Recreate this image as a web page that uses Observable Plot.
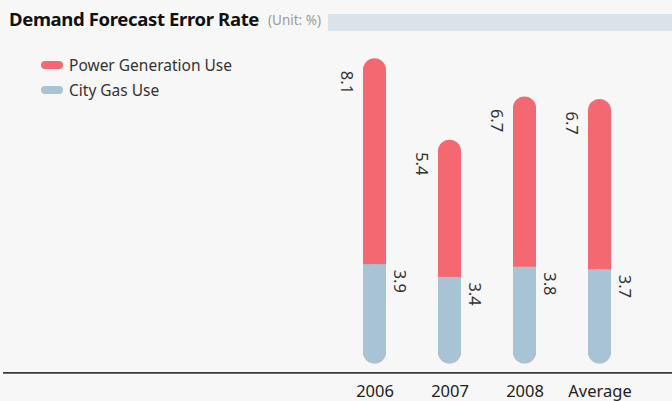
<!DOCTYPE html>
<html>
<head>
<meta charset="utf-8">
<script src="https://cdn.jsdelivr.net/npm/d3@7"></script>
<script src="https://cdn.jsdelivr.net/npm/@observablehq/plot@0.6"></script>
<style>
  html, body { margin: 0; padding: 0; background: #f7f7f7; }
  #wrap { position: relative; width: 672px; height: 401px; overflow: hidden; font-family: "Noto Sans", "Open Sans", sans-serif; }
  #title { position: relative; height: 40px; }
  #title .main { position: absolute; left: 9px; top: 6px; font-size: 18.5px; font-weight: 700; color: #111; letter-spacing: -0.35px; white-space: nowrap; }
  #title .unit { position: absolute; left: 268px; top: 11px; font-size: 13.5px; color: #9a9a9a; white-space: nowrap; }
  #title .band { position: absolute; left: 328px; right: 0; top: 14px; height: 17px; background: #dbe3ea; }
  #legend { position: absolute; left: 41px; top: 52px; font-size: 15.5px; color: #333; }
  #legend .row { display: flex; align-items: center; height: 25.5px; }
  #legend .sw { width: 22px; height: 8px; border-radius: 4px; margin-right: 6px; }
  svg { display: block; }
</style>
</head>
<body>
<div id="wrap">
  <div id="title"><span class="main">Demand Forecast Error Rate</span><span class="unit">(Unit: %)</span><div class="band"></div></div>
  <div id="legend"></div>
  <div id="chart"></div>
</div>
<script>
const years = ["2006", "2007", "2008", "Average"];
const powerGeneration = [8.1, 5.4, 6.7, 6.7];
const cityGas = [3.9, 3.4, 3.8, 3.7];
const seriesNames = ["Power Generation Use", "City Gas Use"];
const seriesColors = ["#f46871", "#a8c4d4"];

const data = years.map((year, i) => ({
  year,
  power: powerGeneration[i],
  gas: cityGas[i],
  total: powerGeneration[i] + cityGas[i]
}));

const legend = document.getElementById("legend");
seriesNames.forEach((name, i) => {
  const row = document.createElement("div");
  row.className = "row";
  row.innerHTML = `<span class="sw" style="background:${seriesColors[i]}"></span><span>${name}</span>`;
  legend.appendChild(row);
});

const chart = Plot.plot({
  width: 672,
  height: 361,
  marginTop: 18.3,
  marginBottom: 37.7,
  marginLeft: 3,
  marginRight: 0,
  style: { background: "transparent", fontFamily: "Noto Sans, Open Sans, sans-serif" },
  x: { domain: years, range: [309.6, 664.6], padding: 0.696, label: null },
  y: { domain: [0, 12], axis: null },
  marks: [
    Plot.ruleY([0], { dy: 9, stroke: "#3a3a3a", strokeWidth: 1.8 }),
    Plot.barY(data, { x: "year", y1: 0, y2: "total", fill: seriesColors[0], rx: 11.5 }),
    Plot.barY(data, { x: "year", y1: 0, y2: "gas", fill: seriesColors[1], rx: 11.5 }),
    Plot.barY(data, { x: "year", y1: d => d.gas / 2, y2: "gas", fill: seriesColors[1] }),
    Plot.text(data, { x: "year", y: "total", text: d => d.power.toFixed(1), rotate: 90, textAnchor: "start", dx: -28.5, dy: 12, fontSize: 16.5, fill: "#333" }),
    Plot.text(data, { x: "year", y: "gas", text: d => d.gas.toFixed(1), rotate: 90, textAnchor: "start", dx: 24, dy: 5, fontSize: 16.5, fill: "#333" }),
    Plot.axisX({ tickSize: 0, tickPadding: 21, fontSize: 16.5, color: "#222", label: null })
  ]
});
document.getElementById("chart").appendChild(chart);
</script>
</body>
</html>
